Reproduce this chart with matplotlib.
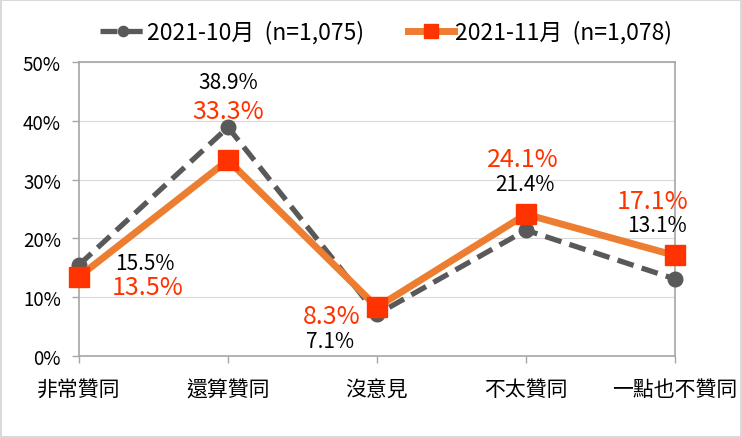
import matplotlib
matplotlib.use("Agg")
import matplotlib.pyplot as plt
from matplotlib.ticker import FuncFormatter

plt.rcParams['font.family'] = ['Noto Sans CJK TC', 'DejaVu Sans']

categories = ['非常贊同', '還算贊同', '沒意見', '不太贊同', '一點也不贊同']
oct_values = [15.5, 38.9, 7.1, 21.4, 13.1]
nov_values = [13.5, 33.3, 8.3, 24.1, 17.1]
oct_label = '2021-10月  (n=1,075)'
nov_label = '2021-11月  (n=1,078)'
y_ticks = [0, 10, 20, 30, 40, 50]

# label offsets in pixels (dx, dy)
oct_offsets = [(66, 2), (0, 45), (-47, -27), (-1, 46), (-18, 54)]
nov_offsets = [(69, -10), (0, 49), (-45, -9), (-3, 55), (-22, 54)]

fig = plt.figure(figsize=(7.42, 4.39), dpi=100)
fig.patch.set_edgecolor('#D9D9D9')
fig.patch.set_linewidth(1.5)
ax = fig.add_axes([79/742, (439-357)/439, (675-79)/742, (357-63)/439])

x = list(range(len(categories)))
l1, = ax.plot(x, oct_values, color='#595959', lw=3.8, ls=(0, (3.2, 1.6)),
              marker='o', ms=10.5, mfc='#595959', mec='#595959', zorder=3,
              label=oct_label, clip_on=False)
l2, = ax.plot(x, nov_values, color='#ED7D31', lw=5, ls='-',
              marker='s', ms=14, mfc='#FF3300', mec='#FF3300', zorder=4,
              label=nov_label, clip_on=False)

for xi, v, (dx, dy) in zip(x, oct_values, oct_offsets):
    ax.annotate(f'{v:.1f}%', (xi, v), xytext=(dx, dy), textcoords='offset pixels',
                ha='center', va='center', fontsize=15, color='#000000', zorder=5)
for xi, v, (dx, dy) in zip(x, nov_values, nov_offsets):
    ax.annotate(f'{v:.1f}%', (xi, v), xytext=(dx, dy), textcoords='offset pixels',
                ha='center', va='center', fontsize=18, color='#FF3300', zorder=5)

ax.set_xlim(0, len(categories) - 1)
ax.set_ylim(0, 50)
ax.set_yticks(y_ticks)
ax.yaxis.set_major_formatter(FuncFormatter(lambda v, p: f'{int(v)}%'))
ax.set_xticks(x)
ax.set_xticklabels(categories)
ax.tick_params(axis='x', length=5, width=1, color='#A6A6A6', pad=11, labelsize=15)
ax.tick_params(axis='y', length=5, width=1, color='#A6A6A6', pad=8, labelsize=13.5)
for s in ax.spines.values():
    s.set_color('#A6A6A6')
    s.set_linewidth(1.2)
ax.grid(axis='y', color='#D9D9D9', lw=0.8)
ax.set_axisbelow(True)

fig.legend(handles=[l1, l2], loc='center', bbox_to_anchor=(0.52, 1 - 33/439),
           ncol=2, frameon=False, fontsize=16.5, handlelength=2.0,
           handletextpad=0.05, columnspacing=1.9, markerscale=0.7)

fig.savefig('out.png', dpi=100)
